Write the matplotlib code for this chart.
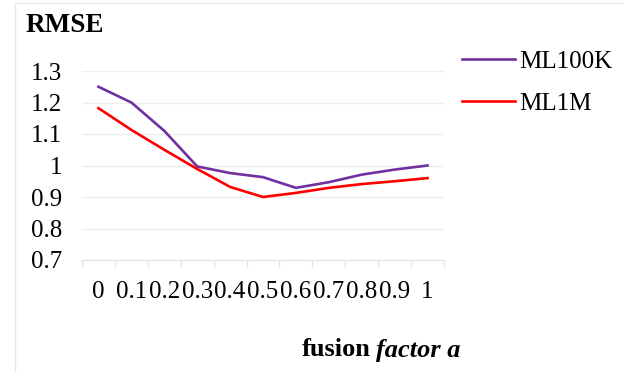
import matplotlib
matplotlib.use("Agg")
import matplotlib.pyplot as plt
from matplotlib.patches import Rectangle

# data
factors = ["0", "0.1", "0.2", "0.3", "0.4", "0.5", "0.6", "0.7", "0.8", "0.9", "1"]
ml100k = [1.25, 1.20, 1.11, 0.997, 0.976, 0.963, 0.929, 0.947, 0.971, 0.987, 1.0]
ml1m = [1.182, 1.113, 1.05, 0.989, 0.932, 0.90, 0.913, 0.929, 0.941, 0.95, 0.96]
yticks = [0.7, 0.8, 0.9, 1.0, 1.1, 1.2, 1.3]
ytick_labels = ["0.7", "0.8", "0.9", "1", "1.1", "1.2", "1.3"]

plt.rcParams["font.family"] = ["Liberation Serif", "DejaVu Serif"]

W, H = 624, 372
fs = 18
fig = plt.figure(figsize=(W / 100, H / 100), dpi=100)
# plot area in pixels: x 82..444, y 71..260
ax = fig.add_axes([82 / W, 1 - 260 / H, (444 - 82) / W, (260 - 71) / H])

# light chart border like Excel
fig.patches.append(Rectangle((15 / W, -0.05), 1.1, 1 - 3 / H + 0.05,
                             transform=fig.transFigure, fill=False,
                             edgecolor="#e6e6e6", linewidth=1))

x = list(range(len(factors)))
ax.plot(x, ml100k, color="#7030A0", linewidth=1.9, label="ML100K", zorder=3)
ax.plot(x, ml1m, color="#FF0000", linewidth=1.9, label="ML1M", zorder=3)

ax.set_xlim(-0.5, len(factors) - 0.5)
ax.set_ylim(0.7, 1.3)
ax.set_yticks(yticks)
ax.set_yticklabels(ytick_labels, fontsize=fs)
ax.tick_params(axis="y", length=0, pad=14)

# category boundaries get the tick marks, centres get the labels
ax.set_xticks([i - 0.5 for i in range(len(factors) + 1)])
ax.set_xticklabels([])
ax.tick_params(axis="x", which="major", length=5, color="#e3e3e3", width=1)
ax.set_xticks(x, minor=True)
ax.set_xticklabels(factors, minor=True, fontsize=fs)
ax.tick_params(axis="x", which="minor", length=0, pad=15)

ax.grid(axis="y", color="#eeeeee", linewidth=1, zorder=0)
for s in ["top", "right", "left"]:
    ax.spines[s].set_visible(False)
ax.spines["bottom"].set_color("#e3e3e3")

fig.text(26 / W, 1 - 25 / H, "RMSE", fontsize=19.5, fontweight="bold",
         va="center", ha="left")
fig.text(302 / W, 1 - 350 / H, "fusion", fontsize=19, fontweight="bold",
         va="center", ha="left")
fig.text(376 / W, 1 - 350 / H, "factor a", fontsize=19, fontweight="bold",
         style="italic", va="center", ha="left")

fig.legend(loc="upper left", bbox_to_anchor=(452 / W, 1 - 40 / H),
           frameon=False, fontsize=fs, handlelength=2.1,
           handletextpad=0.2, labelspacing=0.8, borderaxespad=0)

fig.savefig("out.png", dpi=100)
